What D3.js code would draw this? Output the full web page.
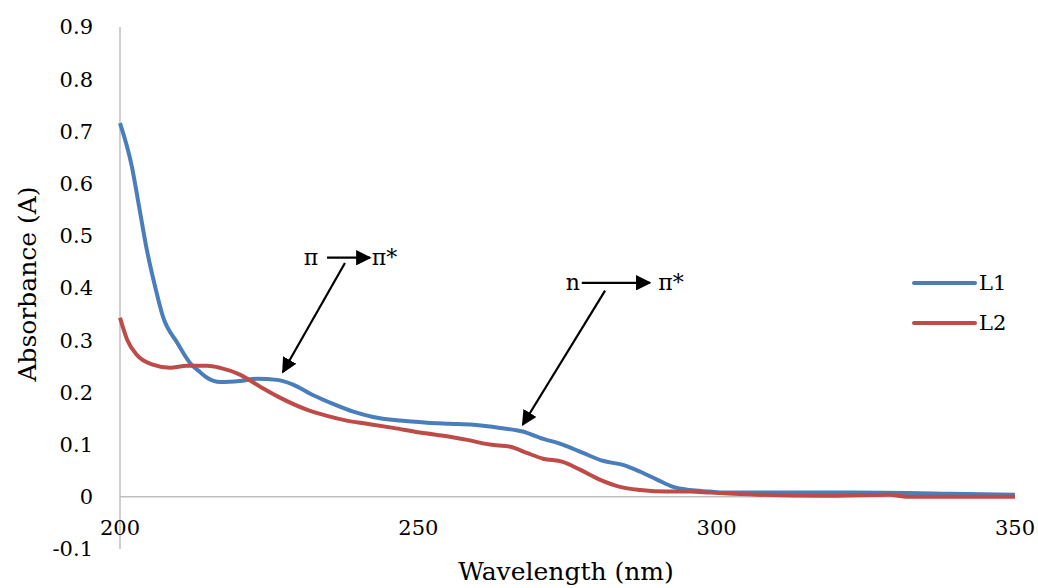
<!DOCTYPE html>
<html>
<head>
<meta charset="utf-8">
<script src="https://cdn.jsdelivr.net/npm/d3@7"></script>
<style>
  body { margin: 0; background: #fff; }
  svg text { font-family: "DejaVu Serif", "Liberation Serif", serif; fill: #000; }
</style>
</head>
<body>
<svg id="chart" width="1038" height="588"></svg>
<script>
// Absorbance spectra
const wlL1 = [200, 202.0, 203.0, 204.5, 205.9, 207.2, 209.6, 211.7, 213.4, 214.6, 216.8, 220.1, 223.0, 226.3, 229.0, 232.3, 235.7, 239.1, 242.4, 246.9, 251.5, 255.3, 259.2, 263.7, 267.5, 270.4, 274.2, 277.6, 280.9, 284.3, 287.2, 290.0, 292.7, 295.5, 298.9, 301.1, 312.3, 322.3, 339.1, 350];
const absL1 = [0.716, 0.632, 0.569, 0.473, 0.402, 0.345, 0.295, 0.257, 0.239, 0.228, 0.220, 0.222, 0.226, 0.224, 0.215, 0.195, 0.178, 0.163, 0.153, 0.146, 0.142, 0.140, 0.138, 0.132, 0.125, 0.113, 0.100, 0.084, 0.069, 0.061, 0.048, 0.033, 0.019, 0.013, 0.010, 0.008, 0.008, 0.008, 0.006, 0.004];

const wlL2 = [200, 201.2, 202.8, 205.5, 208.4, 211.2, 214.6, 216.8, 220.1, 223.5, 226.8, 231.3, 234.7, 238.0, 241.4, 245.8, 250.3, 255.3, 258.2, 262.0, 265.4, 268.2, 270.9, 274.2, 277.1, 280.4, 283.8, 287.2, 291.7, 295.5, 298.9, 306.8, 317.8, 329.0, 331.9, 350];
const absL2 = [0.343, 0.301, 0.272, 0.253, 0.247, 0.251, 0.251, 0.247, 0.234, 0.211, 0.190, 0.167, 0.155, 0.146, 0.140, 0.132, 0.123, 0.115, 0.109, 0.100, 0.096, 0.084, 0.073, 0.067, 0.052, 0.033, 0.019, 0.013, 0.010, 0.010, 0.008, 0.004, 0.002, 0.004, 0.000, 0.000];

const seriesNames = ['L1', 'L2'];
const seriesColors = ['#4a7ebb', '#be4b48'];
const xTicks = [200, 250, 300, 350];
const yTicks = [-0.1, 0, 0.1, 0.2, 0.3, 0.4, 0.5, 0.6, 0.7, 0.8, 0.9];

// transition labels: text pieces, horizontal arrow and pointer (data units)
const transitions = [
    { left: 'π', right: 'π*', leftX: 232.0, rightX: 242.2, y: 0.458, barFrom: 234.7, barTo: 241.9,
      ptrFrom: [237.7, 0.448], ptrTo: [227.3, 0.239] },
    { left: 'n', right: 'π*', leftX: 275.9, rightX: 290.2, y: 0.41, barFrom: 277.4, barTo: 288.8,
      ptrFrom: [281.3, 0.395], ptrTo: [267.5, 0.138] }
];

const svg = d3.select('#chart');

const x = d3.scaleLinear().domain([200, 350]).range([120, 1015]);
const y = d3.scaleLinear().domain([-0.1, 0.9]).range([549, 27]);

// arrow heads
svg.append('defs').append('marker')
    .attr('id', 'head')
    .attr('viewBox', '0 0 10 10')
    .attr('refX', 9).attr('refY', 5)
    .attr('markerWidth', 7).attr('markerHeight', 7)
    .attr('markerUnits', 'strokeWidth')
    .attr('orient', 'auto')
    .append('path')
    .attr('d', 'M0,0 L10,5 L0,10 Z')
    .attr('fill', '#000');

// axes lines
svg.append('line')
    .attr('x1', x(200)).attr('x2', x(200))
    .attr('y1', y(0.9)).attr('y2', y(-0.1))
    .attr('stroke', '#bfbfbf').attr('stroke-width', 1.5);
svg.append('line')
    .attr('x1', x(200)).attr('x2', x(350))
    .attr('y1', y(0)).attr('y2', y(0))
    .attr('stroke', '#bfbfbf').attr('stroke-width', 1.5);

// y tick labels
svg.append('g').selectAll('text')
    .data(yTicks)
    .enter()
    .append('text')
    .attr('x', 93)
    .attr('y', d => y(d))
    .attr('dy', '0.35em')
    .attr('text-anchor', 'end')
    .attr('font-size', 21)
    .text(d => d === 0 ? '0' : d.toFixed(1));

// x tick labels
svg.append('g').selectAll('text')
    .data(xTicks)
    .enter()
    .append('text')
    .attr('x', d => x(d))
    .attr('y', y(0) + 31)
    .attr('dy', '0.35em')
    .attr('text-anchor', 'middle')
    .attr('font-size', 21)
    .text(d => d);

// axis titles
svg.append('text')
    .attr('transform', 'translate(36,284) rotate(-90)')
    .attr('text-anchor', 'middle')
    .attr('font-size', 25)
    .text('Absorbance (A)');
svg.append('text')
    .attr('x', 566)
    .attr('y', 580)
    .attr('text-anchor', 'middle')
    .attr('font-size', 25)
    .text('Wavelength (nm)');

// spectra
const line = d3.line()
    .x(d => x(d[0]))
    .y(d => y(d[1]))
    .curve(d3.curveMonotoneX);

const series = [d3.zip(wlL1, absL1), d3.zip(wlL2, absL2)];

svg.append('g').selectAll('path')
    .data(series)
    .enter()
    .append('path')
    .attr('d', line)
    .attr('fill', 'none')
    .attr('stroke', (d, i) => seriesColors[i])
    .attr('stroke-width', 4)
    .attr('stroke-linejoin', 'round');

// transition annotations
const ann = svg.append('g');
transitions.forEach(t => {
    ann.append('text')
        .attr('x', x(t.leftX)).attr('y', y(t.y))
        .attr('dy', '0.35em')
        .attr('text-anchor', 'middle')
        .attr('font-size', 22)
        .text(t.left);
    ann.append('text')
        .attr('x', x(t.rightX)).attr('y', y(t.y))
        .attr('dy', '0.35em')
        .attr('font-size', 22)
        .text(t.right);
    ann.append('line')
        .attr('x1', x(t.barFrom)).attr('y1', y(t.y))
        .attr('x2', x(t.barTo)).attr('y2', y(t.y))
        .attr('stroke', '#000').attr('stroke-width', 2.2)
        .attr('marker-end', 'url(#head)');
    ann.append('line')
        .attr('x1', x(t.ptrFrom[0])).attr('y1', y(t.ptrFrom[1]))
        .attr('x2', x(t.ptrTo[0])).attr('y2', y(t.ptrTo[1]))
        .attr('stroke', '#000').attr('stroke-width', 2.2)
        .attr('marker-end', 'url(#head)');
});

// legend
const legend = svg.append('g').attr('transform', 'translate(914,283)');
const items = legend.selectAll('g')
    .data(seriesNames)
    .enter()
    .append('g')
    .attr('transform', (d, i) => `translate(0,${i * 40})`);
items.append('line')
    .attr('x1', 0).attr('x2', 61)
    .attr('stroke', (d, i) => seriesColors[i])
    .attr('stroke-width', 4)
    .attr('stroke-linecap', 'round');
items.append('text')
    .attr('x', 65)
    .attr('dy', '0.35em')
    .attr('font-size', 21)
    .text(d => d);
</script>
</body>
</html>
